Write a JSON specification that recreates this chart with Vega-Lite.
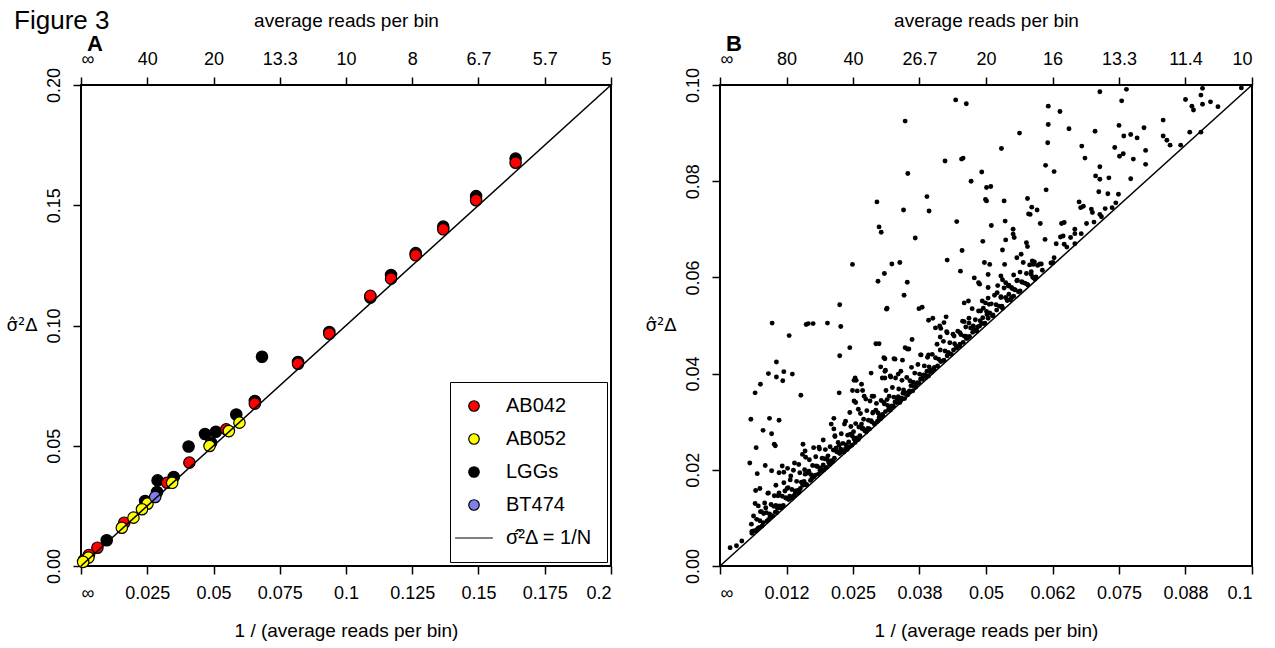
{
  "$schema": "https://vega.github.io/schema/vega-lite/v6.json",
  "background": "white",
  "padding": {"left": 5, "top": 8, "right": 5, "bottom": 5},
  "title": {"text": "Figure 3", "anchor": "start", "frame": "bounds", "fontSize": 26, "font": "Liberation Sans", "fontWeight": "normal", "color": "black", "offset": -24, "dx": 9},
  "config": {
    "font": "Liberation Sans",
    "view": {"stroke": "black", "strokeWidth": 2},
    "axis": {"domain": false, "grid": false, "tickColor": "black", "tickWidth": 1.5, "tickSize": 8, "labelColor": "black", "titleColor": "black", "labelFontSize": 18, "titleFontSize": 19, "titleFontWeight": "normal", "labelFont": "Liberation Sans", "titleFont": "Liberation Sans"},
    "title": {"color": "black"}
  },
  "resolve": {"legend": {"color": "independent", "shape": "independent"}, "scale": {"color": "independent", "shape": "independent"}},
  "datasets": {
    "a": [
      {"g": "LGGs", "x": 0.1640, "y": 0.1694},
      {"g": "LGGs", "x": 0.1491, "y": 0.1538},
      {"g": "LGGs", "x": 0.1367, "y": 0.1411},
      {"g": "LGGs", "x": 0.1263, "y": 0.1301},
      {"g": "LGGs", "x": 0.1170, "y": 0.1210},
      {"g": "LGGs", "x": 0.1092, "y": 0.1116},
      {"g": "LGGs", "x": 0.0937, "y": 0.0973},
      {"g": "LGGs", "x": 0.0819, "y": 0.0848},
      {"g": "LGGs", "x": 0.0683, "y": 0.0870},
      {"g": "LGGs", "x": 0.0656, "y": 0.0686},
      {"g": "LGGs", "x": 0.0586, "y": 0.0630},
      {"g": "LGGs", "x": 0.0509, "y": 0.0558},
      {"g": "LGGs", "x": 0.0468, "y": 0.0549},
      {"g": "LGGs", "x": 0.0491, "y": 0.0513},
      {"g": "LGGs", "x": 0.0406, "y": 0.0497},
      {"g": "LGGs", "x": 0.0350, "y": 0.0370},
      {"g": "LGGs", "x": 0.0289, "y": 0.0356},
      {"g": "LGGs", "x": 0.0287, "y": 0.0308},
      {"g": "LGGs", "x": 0.0242, "y": 0.0270},
      {"g": "LGGs", "x": 0.0097, "y": 0.0107},
      {"g": "AB042", "x": 0.1640, "y": 0.1677},
      {"g": "AB042", "x": 0.1491, "y": 0.1521},
      {"g": "AB042", "x": 0.1367, "y": 0.1400},
      {"g": "AB042", "x": 0.1263, "y": 0.1292},
      {"g": "AB042", "x": 0.1170, "y": 0.1195},
      {"g": "AB042", "x": 0.1092, "y": 0.1123},
      {"g": "AB042", "x": 0.0937, "y": 0.0966},
      {"g": "AB042", "x": 0.0819, "y": 0.0841},
      {"g": "AB042", "x": 0.0656, "y": 0.0675},
      {"g": "AB042", "x": 0.0548, "y": 0.0568},
      {"g": "AB042", "x": 0.0409, "y": 0.0430},
      {"g": "AB042", "x": 0.0325, "y": 0.0346},
      {"g": "AB042", "x": 0.0163, "y": 0.0180},
      {"g": "AB042", "x": 0.0062, "y": 0.0076},
      {"g": "AB042", "x": 0.0030, "y": 0.0046},
      {"g": "AB042", "x": 0.0011, "y": 0.0024},
      {"g": "AB052", "x": 0.0598, "y": 0.0596},
      {"g": "AB052", "x": 0.0558, "y": 0.0561},
      {"g": "AB052", "x": 0.0485, "y": 0.0499},
      {"g": "AB052", "x": 0.0344, "y": 0.0346},
      {"g": "AB052", "x": 0.0251, "y": 0.0259},
      {"g": "AB052", "x": 0.0230, "y": 0.0236},
      {"g": "AB052", "x": 0.0198, "y": 0.0201},
      {"g": "AB052", "x": 0.0154, "y": 0.0159},
      {"g": "AB052", "x": 0.0028, "y": 0.0035},
      {"g": "AB052", "x": 0.0008, "y": 0.0017},
      {"g": "BT474", "x": 0.0280, "y": 0.0287}
    ],
    "b": [
      {"x": 0.0225, "y": 0.0543}, {"x": 0.0314, "y": 0.0536}, {"x": 0.0098, "y": 0.0505}, {"x": 0.0162, "y": 0.0502},
      {"x": 0.0166, "y": 0.0504}, {"x": 0.0175, "y": 0.0504}, {"x": 0.0202, "y": 0.0505}, {"x": 0.0227, "y": 0.0498},
      {"x": 0.0130, "y": 0.0479}, {"x": 0.0293, "y": 0.0462}, {"x": 0.0299, "y": 0.0462}, {"x": 0.0244, "y": 0.0454},
      {"x": 0.0225, "y": 0.0437}, {"x": 0.0106, "y": 0.0424}, {"x": 0.0310, "y": 0.0431}, {"x": 0.0327, "y": 0.0431},
      {"x": 0.0091, "y": 0.0400}, {"x": 0.0106, "y": 0.0393}, {"x": 0.0120, "y": 0.0404}, {"x": 0.0136, "y": 0.0399},
      {"x": 0.0118, "y": 0.0385}, {"x": 0.0254, "y": 0.0391}, {"x": 0.0252, "y": 0.0386}, {"x": 0.0284, "y": 0.0401},
      {"x": 0.0302, "y": 0.0414}, {"x": 0.0310, "y": 0.0405}, {"x": 0.0305, "y": 0.0391}, {"x": 0.0321, "y": 0.0393},
      {"x": 0.0066, "y": 0.0360}, {"x": 0.0076, "y": 0.0378}, {"x": 0.0152, "y": 0.0355}, {"x": 0.0224, "y": 0.0360},
      {"x": 0.0249, "y": 0.0365}, {"x": 0.0268, "y": 0.0365}, {"x": 0.0271, "y": 0.0353}, {"x": 0.0286, "y": 0.0353},
      {"x": 0.0252, "y": 0.0343}, {"x": 0.0255, "y": 0.0340}, {"x": 0.0058, "y": 0.0305}, {"x": 0.0093, "y": 0.0307},
      {"x": 0.0111, "y": 0.0303}, {"x": 0.0081, "y": 0.0282}, {"x": 0.0097, "y": 0.0275}, {"x": 0.0102, "y": 0.0253},
      {"x": 0.0104, "y": 0.0250}, {"x": 0.0068, "y": 0.0246}, {"x": 0.0156, "y": 0.0253}, {"x": 0.0214, "y": 0.0307},
      {"x": 0.0209, "y": 0.0295}, {"x": 0.0214, "y": 0.0285}, {"x": 0.0244, "y": 0.0319}, {"x": 0.0056, "y": 0.0214},
      {"x": 0.0070, "y": 0.0192}, {"x": 0.0085, "y": 0.0209}, {"x": 0.0097, "y": 0.0198}, {"x": 0.0117, "y": 0.0208},
      {"x": 0.0127, "y": 0.0203}, {"x": 0.0111, "y": 0.0194}, {"x": 0.0148, "y": 0.0211}, {"x": 0.0155, "y": 0.0232},
      {"x": 0.0160, "y": 0.0239}, {"x": 0.0067, "y": 0.0157}, {"x": 0.0075, "y": 0.0161}, {"x": 0.0066, "y": 0.0130},
      {"x": 0.0076, "y": 0.0113}, {"x": 0.0059, "y": 0.0087}, {"x": 0.0063, "y": 0.0073}, {"x": 0.0019, "y": 0.0038},
      {"x": 0.0031, "y": 0.0042}, {"x": 0.0041, "y": 0.0052},
      {"x": 0.0443, "y": 0.0969}, {"x": 0.0463, "y": 0.0961}, {"x": 0.0617, "y": 0.0956}, {"x": 0.0348, "y": 0.0925},
      {"x": 0.0617, "y": 0.0918}, {"x": 0.0563, "y": 0.0900}, {"x": 0.0616, "y": 0.0880}, {"x": 0.0529, "y": 0.0868},
      {"x": 0.0423, "y": 0.0842}, {"x": 0.0454, "y": 0.0846}, {"x": 0.0457, "y": 0.0848}, {"x": 0.0353, "y": 0.0816},
      {"x": 0.0492, "y": 0.0819}, {"x": 0.0612, "y": 0.0833}, {"x": 0.0472, "y": 0.0800}, {"x": 0.0501, "y": 0.0787},
      {"x": 0.0509, "y": 0.0789}, {"x": 0.0613, "y": 0.0782}, {"x": 0.0389, "y": 0.0768}, {"x": 0.0499, "y": 0.0762},
      {"x": 0.0501, "y": 0.0759}, {"x": 0.0534, "y": 0.0759}, {"x": 0.0578, "y": 0.0764}, {"x": 0.0295, "y": 0.0757},
      {"x": 0.0345, "y": 0.0740}, {"x": 0.0393, "y": 0.0738}, {"x": 0.0586, "y": 0.0746}, {"x": 0.0596, "y": 0.0740},
      {"x": 0.0580, "y": 0.0732}, {"x": 0.0583, "y": 0.0731}, {"x": 0.0299, "y": 0.0705}, {"x": 0.0303, "y": 0.0694},
      {"x": 0.0445, "y": 0.0716}, {"x": 0.0510, "y": 0.0708}, {"x": 0.0536, "y": 0.0717}, {"x": 0.0602, "y": 0.0712},
      {"x": 0.0367, "y": 0.0682}, {"x": 0.0494, "y": 0.0675}, {"x": 0.0537, "y": 0.0678}, {"x": 0.0551, "y": 0.0700},
      {"x": 0.0551, "y": 0.0690}, {"x": 0.0553, "y": 0.0683}, {"x": 0.0576, "y": 0.0672}, {"x": 0.0578, "y": 0.0664},
      {"x": 0.0611, "y": 0.0679}, {"x": 0.0249, "y": 0.0627}, {"x": 0.0323, "y": 0.0628}, {"x": 0.0338, "y": 0.0631},
      {"x": 0.0309, "y": 0.0608}, {"x": 0.0297, "y": 0.0592}, {"x": 0.0352, "y": 0.0590}, {"x": 0.0346, "y": 0.0563},
      {"x": 0.0427, "y": 0.0636}, {"x": 0.0455, "y": 0.0656}, {"x": 0.0452, "y": 0.0613}, {"x": 0.0531, "y": 0.0657},
      {"x": 0.0497, "y": 0.0631}, {"x": 0.0507, "y": 0.0627}, {"x": 0.0535, "y": 0.0627}, {"x": 0.0558, "y": 0.0641},
      {"x": 0.0566, "y": 0.0648}, {"x": 0.0587, "y": 0.0634}, {"x": 0.0589, "y": 0.0627}, {"x": 0.0585, "y": 0.0612},
      {"x": 0.0601, "y": 0.0628}, {"x": 0.0604, "y": 0.0628}, {"x": 0.0592, "y": 0.0596}, {"x": 0.0478, "y": 0.0599},
      {"x": 0.0486, "y": 0.0589}, {"x": 0.0488, "y": 0.0586}, {"x": 0.0504, "y": 0.0606}, {"x": 0.0504, "y": 0.0579},
      {"x": 0.0528, "y": 0.0603}, {"x": 0.0531, "y": 0.0595}, {"x": 0.0537, "y": 0.0589}, {"x": 0.0542, "y": 0.0582},
      {"x": 0.0548, "y": 0.0579}, {"x": 0.0553, "y": 0.0575}, {"x": 0.0559, "y": 0.0594}, {"x": 0.0568, "y": 0.0590},
      {"x": 0.0521, "y": 0.0568}, {"x": 0.0528, "y": 0.0558}, {"x": 0.0537, "y": 0.0558}, {"x": 0.0543, "y": 0.0565},
      {"x": 0.0548, "y": 0.0558}, {"x": 0.0313, "y": 0.0534}, {"x": 0.0374, "y": 0.0535}, {"x": 0.0380, "y": 0.0538},
      {"x": 0.0392, "y": 0.0511}, {"x": 0.0400, "y": 0.0515}, {"x": 0.0459, "y": 0.0547}, {"x": 0.0467, "y": 0.0551},
      {"x": 0.0425, "y": 0.0518}, {"x": 0.0421, "y": 0.0506}, {"x": 0.0405, "y": 0.0495}, {"x": 0.0413, "y": 0.0499},
      {"x": 0.0415, "y": 0.0494}, {"x": 0.0459, "y": 0.0508}, {"x": 0.0468, "y": 0.0505}, {"x": 0.0476, "y": 0.0499},
      {"x": 0.0484, "y": 0.0497}, {"x": 0.0490, "y": 0.0530}, {"x": 0.0494, "y": 0.0516}, {"x": 0.0502, "y": 0.0523},
      {"x": 0.0513, "y": 0.0520}, {"x": 0.0493, "y": 0.0551}, {"x": 0.0499, "y": 0.0547}, {"x": 0.0506, "y": 0.0544},
      {"x": 0.0361, "y": 0.0471}, {"x": 0.0348, "y": 0.0454}, {"x": 0.0352, "y": 0.0451}, {"x": 0.0308, "y": 0.0433},
      {"x": 0.0714, "y": 0.0986}, {"x": 0.0764, "y": 0.0991}, {"x": 0.0755, "y": 0.0967}, {"x": 0.0907, "y": 0.0993},
      {"x": 0.0980, "y": 0.0994}, {"x": 0.0875, "y": 0.0970}, {"x": 0.0904, "y": 0.0979}, {"x": 0.0922, "y": 0.0965},
      {"x": 0.0887, "y": 0.0956}, {"x": 0.0890, "y": 0.0948}, {"x": 0.0907, "y": 0.0960}, {"x": 0.0936, "y": 0.0955},
      {"x": 0.0639, "y": 0.0945}, {"x": 0.0656, "y": 0.0909}, {"x": 0.0705, "y": 0.0904}, {"x": 0.0750, "y": 0.0916},
      {"x": 0.0759, "y": 0.0894}, {"x": 0.0772, "y": 0.0897}, {"x": 0.0784, "y": 0.0890}, {"x": 0.0797, "y": 0.0911},
      {"x": 0.0833, "y": 0.0927}, {"x": 0.0833, "y": 0.0894}, {"x": 0.0840, "y": 0.0885}, {"x": 0.0846, "y": 0.0875},
      {"x": 0.0866, "y": 0.0875}, {"x": 0.0883, "y": 0.0902}, {"x": 0.0904, "y": 0.0902}, {"x": 0.0680, "y": 0.0873},
      {"x": 0.0686, "y": 0.0848}, {"x": 0.0628, "y": 0.0820}, {"x": 0.0742, "y": 0.0870}, {"x": 0.0751, "y": 0.0852},
      {"x": 0.0758, "y": 0.0857}, {"x": 0.0777, "y": 0.0846}, {"x": 0.0800, "y": 0.0864}, {"x": 0.0800, "y": 0.0835},
      {"x": 0.0714, "y": 0.0830}, {"x": 0.0706, "y": 0.0811}, {"x": 0.0714, "y": 0.0804}, {"x": 0.0731, "y": 0.0807},
      {"x": 0.0772, "y": 0.0805}, {"x": 0.0712, "y": 0.0778}, {"x": 0.0729, "y": 0.0774}, {"x": 0.0749, "y": 0.0773},
      {"x": 0.0744, "y": 0.0755}, {"x": 0.0737, "y": 0.0745}, {"x": 0.0675, "y": 0.0757}, {"x": 0.0678, "y": 0.0745},
      {"x": 0.0683, "y": 0.0748}, {"x": 0.0698, "y": 0.0742}, {"x": 0.0700, "y": 0.0735}, {"x": 0.0724, "y": 0.0743},
      {"x": 0.0714, "y": 0.0731}, {"x": 0.0717, "y": 0.0726}, {"x": 0.0703, "y": 0.0715}, {"x": 0.0642, "y": 0.0712},
      {"x": 0.0647, "y": 0.0714}, {"x": 0.0640, "y": 0.0684}, {"x": 0.0645, "y": 0.0686}, {"x": 0.0659, "y": 0.0683},
      {"x": 0.0667, "y": 0.0700}, {"x": 0.0667, "y": 0.0691}, {"x": 0.0679, "y": 0.0691}, {"x": 0.0689, "y": 0.0712},
      {"x": 0.0647, "y": 0.0669}, {"x": 0.0652, "y": 0.0663}, {"x": 0.0667, "y": 0.0670}, {"x": 0.0632, "y": 0.0670},
      {"x": 0.0628, "y": 0.0641}, {"x": 0.0626, "y": 0.0631},
      {"x": 0.0329, "y": 0.0430}, {"x": 0.0343, "y": 0.0428}, {"x": 0.0355, "y": 0.0451}, {"x": 0.0414, "y": 0.0476},
      {"x": 0.0427, "y": 0.0485}, {"x": 0.0440, "y": 0.0478}, {"x": 0.0451, "y": 0.0485}, {"x": 0.0462, "y": 0.0478},
      {"x": 0.0377, "y": 0.0439}, {"x": 0.0392, "y": 0.0439}, {"x": 0.0311, "y": 0.0407}, {"x": 0.0320, "y": 0.0395},
      {"x": 0.0335, "y": 0.0399}, {"x": 0.0340, "y": 0.0405}, {"x": 0.0310, "y": 0.0391}, {"x": 0.0256, "y": 0.0386},
      {"x": 0.0266, "y": 0.0378}, {"x": 0.0258, "y": 0.0364}, {"x": 0.0274, "y": 0.0347}, {"x": 0.0289, "y": 0.0353},
      {"x": 0.0120, "y": 0.0195}, {"x": 0.0140, "y": 0.0214}, {"x": 0.0161, "y": 0.0226}, {"x": 0.0176, "y": 0.0246},
      {"x": 0.0194, "y": 0.0262}, {"x": 0.0216, "y": 0.0271}, {"x": 0.0236, "y": 0.0301}, {"x": 0.0187, "y": 0.0243},
      {"x": 0.0133, "y": 0.0187}, {"x": 0.0105, "y": 0.0168}, {"x": 0.0091, "y": 0.0152}, {"x": 0.0260, "y": 0.0326},
      {"x": 0.0060, "y": 0.0072}, {"x": 0.0063, "y": 0.0104}, {"x": 0.0066, "y": 0.0073}, {"x": 0.0069, "y": 0.0097},
      {"x": 0.0072, "y": 0.0125}, {"x": 0.0075, "y": 0.0094}, {"x": 0.0078, "y": 0.0113}, {"x": 0.0081, "y": 0.0090},
      {"x": 0.0084, "y": 0.0131}, {"x": 0.0087, "y": 0.0111}, {"x": 0.0090, "y": 0.0151}, {"x": 0.0093, "y": 0.0108},
      {"x": 0.0096, "y": 0.0128}, {"x": 0.0099, "y": 0.0104}, {"x": 0.0102, "y": 0.0146}, {"x": 0.0105, "y": 0.0126},
      {"x": 0.0108, "y": 0.0120}, {"x": 0.0111, "y": 0.0152}, {"x": 0.0114, "y": 0.0121}, {"x": 0.0117, "y": 0.0145},
      {"x": 0.0120, "y": 0.0173}, {"x": 0.0123, "y": 0.0142}, {"x": 0.0126, "y": 0.0161}, {"x": 0.0129, "y": 0.0138},
      {"x": 0.0132, "y": 0.0179}, {"x": 0.0135, "y": 0.0159}, {"x": 0.0138, "y": 0.0199}, {"x": 0.0141, "y": 0.0156},
      {"x": 0.0144, "y": 0.0176}, {"x": 0.0147, "y": 0.0152}, {"x": 0.0150, "y": 0.0194}, {"x": 0.0153, "y": 0.0174},
      {"x": 0.0156, "y": 0.0168}, {"x": 0.0159, "y": 0.0200}, {"x": 0.0162, "y": 0.0169}, {"x": 0.0165, "y": 0.0193},
      {"x": 0.0168, "y": 0.0221}, {"x": 0.0171, "y": 0.0190}, {"x": 0.0174, "y": 0.0209}, {"x": 0.0177, "y": 0.0186},
      {"x": 0.0180, "y": 0.0227}, {"x": 0.0183, "y": 0.0207}, {"x": 0.0186, "y": 0.0247}, {"x": 0.0189, "y": 0.0204},
      {"x": 0.0192, "y": 0.0224}, {"x": 0.0195, "y": 0.0200}, {"x": 0.0198, "y": 0.0242}, {"x": 0.0201, "y": 0.0222},
      {"x": 0.0204, "y": 0.0216}, {"x": 0.0207, "y": 0.0248}, {"x": 0.0210, "y": 0.0217}, {"x": 0.0213, "y": 0.0241},
      {"x": 0.0216, "y": 0.0269}, {"x": 0.0219, "y": 0.0238}, {"x": 0.0222, "y": 0.0257}, {"x": 0.0225, "y": 0.0234},
      {"x": 0.0228, "y": 0.0275}, {"x": 0.0231, "y": 0.0255}, {"x": 0.0234, "y": 0.0295}, {"x": 0.0237, "y": 0.0252},
      {"x": 0.0240, "y": 0.0272}, {"x": 0.0243, "y": 0.0248}, {"x": 0.0246, "y": 0.0290}, {"x": 0.0249, "y": 0.0270},
      {"x": 0.0252, "y": 0.0264}, {"x": 0.0255, "y": 0.0296}, {"x": 0.0258, "y": 0.0265}, {"x": 0.0261, "y": 0.0289},
      {"x": 0.0264, "y": 0.0317}, {"x": 0.0267, "y": 0.0286}, {"x": 0.0270, "y": 0.0305}, {"x": 0.0273, "y": 0.0282},
      {"x": 0.0276, "y": 0.0323}, {"x": 0.0279, "y": 0.0303}, {"x": 0.0282, "y": 0.0343}, {"x": 0.0285, "y": 0.0300},
      {"x": 0.0288, "y": 0.0320}, {"x": 0.0291, "y": 0.0296}, {"x": 0.0294, "y": 0.0338}, {"x": 0.0297, "y": 0.0318},
      {"x": 0.0300, "y": 0.0312}, {"x": 0.0303, "y": 0.0344}, {"x": 0.0306, "y": 0.0313}, {"x": 0.0309, "y": 0.0337},
      {"x": 0.0312, "y": 0.0365}, {"x": 0.0315, "y": 0.0334}, {"x": 0.0318, "y": 0.0353}, {"x": 0.0321, "y": 0.0330},
      {"x": 0.0324, "y": 0.0371}, {"x": 0.0327, "y": 0.0351}, {"x": 0.0330, "y": 0.0391}, {"x": 0.0333, "y": 0.0348},
      {"x": 0.0336, "y": 0.0368}, {"x": 0.0339, "y": 0.0344}, {"x": 0.0342, "y": 0.0386}, {"x": 0.0345, "y": 0.0366},
      {"x": 0.0348, "y": 0.0360}, {"x": 0.0351, "y": 0.0392}, {"x": 0.0354, "y": 0.0361}, {"x": 0.0357, "y": 0.0385},
      {"x": 0.0360, "y": 0.0413}, {"x": 0.0363, "y": 0.0382}, {"x": 0.0366, "y": 0.0401}, {"x": 0.0369, "y": 0.0378},
      {"x": 0.0372, "y": 0.0419}, {"x": 0.0375, "y": 0.0399}, {"x": 0.0378, "y": 0.0439}, {"x": 0.0381, "y": 0.0396},
      {"x": 0.0384, "y": 0.0416}, {"x": 0.0387, "y": 0.0392}, {"x": 0.0390, "y": 0.0434}, {"x": 0.0393, "y": 0.0414},
      {"x": 0.0396, "y": 0.0408}, {"x": 0.0399, "y": 0.0440}, {"x": 0.0402, "y": 0.0409}, {"x": 0.0405, "y": 0.0433},
      {"x": 0.0408, "y": 0.0461}, {"x": 0.0411, "y": 0.0430}, {"x": 0.0414, "y": 0.0449}, {"x": 0.0417, "y": 0.0426},
      {"x": 0.0420, "y": 0.0467}, {"x": 0.0423, "y": 0.0447}, {"x": 0.0426, "y": 0.0487}, {"x": 0.0429, "y": 0.0444},
      {"x": 0.0432, "y": 0.0464}, {"x": 0.0435, "y": 0.0440}, {"x": 0.0438, "y": 0.0482}, {"x": 0.0441, "y": 0.0462},
      {"x": 0.0444, "y": 0.0456}, {"x": 0.0447, "y": 0.0488}, {"x": 0.0450, "y": 0.0457}, {"x": 0.0453, "y": 0.0481},
      {"x": 0.0456, "y": 0.0509}, {"x": 0.0459, "y": 0.0478}, {"x": 0.0462, "y": 0.0497}, {"x": 0.0465, "y": 0.0474},
      {"x": 0.0468, "y": 0.0515}, {"x": 0.0471, "y": 0.0495}, {"x": 0.0474, "y": 0.0535}, {"x": 0.0477, "y": 0.0492},
      {"x": 0.0480, "y": 0.0512}, {"x": 0.0483, "y": 0.0488}, {"x": 0.0486, "y": 0.0530}, {"x": 0.0489, "y": 0.0510},
      {"x": 0.0492, "y": 0.0504}, {"x": 0.0495, "y": 0.0536}, {"x": 0.0498, "y": 0.0505}, {"x": 0.0501, "y": 0.0529},
      {"x": 0.0504, "y": 0.0557}, {"x": 0.0507, "y": 0.0526}, {"x": 0.0510, "y": 0.0545}, {"x": 0.0513, "y": 0.0522},
      {"x": 0.0516, "y": 0.0563}, {"x": 0.0519, "y": 0.0543}, {"x": 0.0522, "y": 0.0583}, {"x": 0.0525, "y": 0.0540},
      {"x": 0.0528, "y": 0.0560}, {"x": 0.0531, "y": 0.0536}, {"x": 0.0534, "y": 0.0578}, {"x": 0.0537, "y": 0.0558},
      {"x": 0.0540, "y": 0.0552}, {"x": 0.0543, "y": 0.0584}, {"x": 0.0546, "y": 0.0553}, {"x": 0.0549, "y": 0.0577},
      {"x": 0.0552, "y": 0.0605}, {"x": 0.0555, "y": 0.0574}, {"x": 0.0558, "y": 0.0593}, {"x": 0.0561, "y": 0.0570},
      {"x": 0.0564, "y": 0.0611}, {"x": 0.0567, "y": 0.0591}, {"x": 0.0570, "y": 0.0631}, {"x": 0.0573, "y": 0.0588},
      {"x": 0.0576, "y": 0.0608}, {"x": 0.0579, "y": 0.0584}, {"x": 0.0582, "y": 0.0626}, {"x": 0.0585, "y": 0.0606},
      {"x": 0.0588, "y": 0.0600}, {"x": 0.0591, "y": 0.0632}, {"x": 0.0594, "y": 0.0601}, {"x": 0.0597, "y": 0.0625},
      {"x": 0.0060, "y": 0.0068}, {"x": 0.0068, "y": 0.0074}, {"x": 0.0071, "y": 0.0078}, {"x": 0.0074, "y": 0.0080},
      {"x": 0.0079, "y": 0.0083}, {"x": 0.0082, "y": 0.0109}, {"x": 0.0086, "y": 0.0121}, {"x": 0.0088, "y": 0.0093},
      {"x": 0.0091, "y": 0.0096}, {"x": 0.0094, "y": 0.0102}, {"x": 0.0098, "y": 0.0104}, {"x": 0.0101, "y": 0.0124},
      {"x": 0.0104, "y": 0.0112}, {"x": 0.0107, "y": 0.0111}, {"x": 0.0109, "y": 0.0146}, {"x": 0.0112, "y": 0.0125},
      {"x": 0.0116, "y": 0.0122}, {"x": 0.0119, "y": 0.0126}, {"x": 0.0122, "y": 0.0156}, {"x": 0.0125, "y": 0.0141},
      {"x": 0.0128, "y": 0.0163}, {"x": 0.0131, "y": 0.0145}, {"x": 0.0134, "y": 0.0141}, {"x": 0.0137, "y": 0.0144},
      {"x": 0.0140, "y": 0.0147}, {"x": 0.0142, "y": 0.0154}, {"x": 0.0146, "y": 0.0157}, {"x": 0.0149, "y": 0.0155},
      {"x": 0.0151, "y": 0.0161}, {"x": 0.0155, "y": 0.0171}, {"x": 0.0158, "y": 0.0176}, {"x": 0.0160, "y": 0.0191},
      {"x": 0.0163, "y": 0.0169}, {"x": 0.0167, "y": 0.0197}, {"x": 0.0170, "y": 0.0178}, {"x": 0.0173, "y": 0.0183},
      {"x": 0.0176, "y": 0.0186}, {"x": 0.0179, "y": 0.0189}, {"x": 0.0181, "y": 0.0208}, {"x": 0.0185, "y": 0.0191},
      {"x": 0.0188, "y": 0.0199}, {"x": 0.0191, "y": 0.0197}, {"x": 0.0194, "y": 0.0210}, {"x": 0.0197, "y": 0.0223},
      {"x": 0.0200, "y": 0.0205}, {"x": 0.0203, "y": 0.0229}, {"x": 0.0206, "y": 0.0211}, {"x": 0.0209, "y": 0.0219},
      {"x": 0.0212, "y": 0.0217}, {"x": 0.0215, "y": 0.0224}, {"x": 0.0218, "y": 0.0245}, {"x": 0.0221, "y": 0.0237},
      {"x": 0.0224, "y": 0.0251}, {"x": 0.0227, "y": 0.0243}, {"x": 0.0230, "y": 0.0238}, {"x": 0.0233, "y": 0.0237},
      {"x": 0.0236, "y": 0.0244}, {"x": 0.0239, "y": 0.0242}, {"x": 0.0242, "y": 0.0258}, {"x": 0.0245, "y": 0.0274},
      {"x": 0.0248, "y": 0.0251}, {"x": 0.0251, "y": 0.0279}, {"x": 0.0254, "y": 0.0257}, {"x": 0.0257, "y": 0.0266},
      {"x": 0.0260, "y": 0.0263}, {"x": 0.0263, "y": 0.0271}, {"x": 0.0266, "y": 0.0295}, {"x": 0.0269, "y": 0.0286},
      {"x": 0.0272, "y": 0.0281}, {"x": 0.0275, "y": 0.0279}, {"x": 0.0278, "y": 0.0286}, {"x": 0.0281, "y": 0.0285},
      {"x": 0.0284, "y": 0.0302}, {"x": 0.0287, "y": 0.0318}, {"x": 0.0290, "y": 0.0295}, {"x": 0.0293, "y": 0.0324},
      {"x": 0.0296, "y": 0.0301}, {"x": 0.0299, "y": 0.0308}, {"x": 0.0302, "y": 0.0306}, {"x": 0.0305, "y": 0.0315},
      {"x": 0.0308, "y": 0.0340}, {"x": 0.0311, "y": 0.0321}, {"x": 0.0314, "y": 0.0346}, {"x": 0.0317, "y": 0.0326},
      {"x": 0.0320, "y": 0.0324}, {"x": 0.0323, "y": 0.0333}, {"x": 0.0326, "y": 0.0332}, {"x": 0.0329, "y": 0.0341},
      {"x": 0.0332, "y": 0.0340}, {"x": 0.0335, "y": 0.0352}, {"x": 0.0338, "y": 0.0340}, {"x": 0.0341, "y": 0.0349},
      {"x": 0.0344, "y": 0.0359}, {"x": 0.0347, "y": 0.0348}, {"x": 0.0350, "y": 0.0357}, {"x": 0.0353, "y": 0.0356},
      {"x": 0.0356, "y": 0.0364}, {"x": 0.0359, "y": 0.0375}, {"x": 0.0362, "y": 0.0364}, {"x": 0.0365, "y": 0.0373},
      {"x": 0.0368, "y": 0.0372}, {"x": 0.0371, "y": 0.0381}, {"x": 0.0374, "y": 0.0380}, {"x": 0.0377, "y": 0.0389},
      {"x": 0.0380, "y": 0.0388}, {"x": 0.0383, "y": 0.0397}, {"x": 0.0386, "y": 0.0396}, {"x": 0.0389, "y": 0.0405},
      {"x": 0.0392, "y": 0.0395}, {"x": 0.0395, "y": 0.0404}, {"x": 0.0398, "y": 0.0403}, {"x": 0.0403, "y": 0.0413},
      {"x": 0.0409, "y": 0.0416}, {"x": 0.0415, "y": 0.0425}, {"x": 0.0421, "y": 0.0428}, {"x": 0.0427, "y": 0.0437},
      {"x": 0.0433, "y": 0.0441}, {"x": 0.0439, "y": 0.0449}, {"x": 0.0445, "y": 0.0453}, {"x": 0.0451, "y": 0.0461},
      {"x": 0.0457, "y": 0.0465}, {"x": 0.0463, "y": 0.0473}, {"x": 0.0469, "y": 0.0477}, {"x": 0.0475, "y": 0.0486},
      {"x": 0.0481, "y": 0.0489}, {"x": 0.0488, "y": 0.0499}, {"x": 0.0496, "y": 0.0504}, {"x": 0.0504, "y": 0.0515},
      {"x": 0.0512, "y": 0.0521}, {"x": 0.0520, "y": 0.0532}, {"x": 0.0530, "y": 0.0540}, {"x": 0.0540, "y": 0.0553},
      {"x": 0.0552, "y": 0.0561}, {"x": 0.0564, "y": 0.0572}, {"x": 0.0577, "y": 0.0586}, {"x": 0.0591, "y": 0.0599},
      {"x": 0.0606, "y": 0.0615}, {"x": 0.0622, "y": 0.0630}
    ]
  },
  "hconcat": [
    {
      "width": 530,
      "height": 481,
      "title": {"text": "A", "anchor": "start", "frame": "group", "fontSize": 22, "fontWeight": "bold", "font": "Liberation Sans", "offset": -45, "dx": 6},
      "encoding": {
        "y": {"field": "y", "type": "quantitative", "scale": {"domain": [0, 0.2], "nice": false, "zero": false},
              "axis": {"title": "σ̂²Δ", "titleFont": "DejaVu Sans", "titleAngle": 0, "titleAlign": "right", "titleBaseline": "middle", "titleFontSize": 18, "titlePadding": 8, "values": [0, 0.05, 0.1, 0.15, 0.2], "format": ".2f", "labelAngle": -90, "labelPadding": 10}}
      },
      "layer": [
        {
          "data": {"name": "a"},
          "mark": {"type": "point", "filled": true, "stroke": "black", "strokeWidth": 1.2, "size": 130, "opacity": 1},
          "encoding": {
            "x": {"field": "x", "type": "quantitative", "scale": {"domain": [0, 0.2], "nice": false, "zero": false},
                  "axis": {"orient": "bottom", "title": "1 / (average reads per bin)", "titlePadding": 19, "labelPadding": 10,
                           "values": [0, 0.025, 0.05, 0.075, 0.1, 0.125, 0.15, 0.175, 0.2],
                           "labelExpr": "['∞','0.025','0.05','0.075','0.1','0.125','0.15','0.175','0.2'][round(datum.value*40)]"}},
            "color": {"field": "g", "type": "nominal",
                      "scale": {"domain": ["AB042", "AB052", "LGGs", "BT474", "σ̂²Δ = 1/N"], "range": ["#ff0000", "#ffff00", "#000000", "#8080e6", "#000000"]},
                      "legend": {"title": null, "orient": "bottom-right", "offset": 4, "padding": 14, "strokeColor": "black", "fillColor": "white",
                                 "labelFontSize": 20, "labelFont": "Liberation Sans", "labelColor": "black", "symbolSize": 110,
                                 "symbolStrokeColor": "black", "symbolStrokeWidth": 1.2, "rowPadding": 13, "labelOffset": 22}},
            "shape": {"field": "g", "type": "nominal",
                      "scale": {"domain": ["AB042", "AB052", "LGGs", "BT474", "σ̂²Δ = 1/N"], "range": ["circle", "circle", "circle", "circle", "M-3.6,0L3.6,0"]}}
          }
        },
        {
          "data": {"values": [{"x": 0, "y": 0}, {"x": 0.2, "y": 0.2}]},
          "mark": {"type": "line", "color": "black", "strokeWidth": 1.5},
          "encoding": {
            "x": {"field": "x", "type": "quantitative",
                  "axis": {"orient": "top", "title": "average reads per bin", "titlePadding": 20, "labelPadding": 9,
                           "values": [0, 0.025, 0.05, 0.075, 0.1, 0.125, 0.15, 0.175, 0.2],
                           "labelExpr": "['∞','40','20','13.3','10','8','6.7','5.7','5'][round(datum.value*40)]"}}
          }
        }
      ],
      "resolve": {"axis": {"x": "independent"}}
    },
    {
      "width": 532,
      "height": 481,
      "title": {"text": "B", "anchor": "start", "frame": "group", "fontSize": 22, "fontWeight": "bold", "font": "Liberation Sans", "offset": -45, "dx": 6},
      "encoding": {
        "y": {"field": "y", "type": "quantitative", "scale": {"domain": [0, 0.1], "nice": false, "zero": false},
              "axis": {"title": "σ̂²Δ", "titleFont": "DejaVu Sans", "titleAngle": 0, "titleAlign": "right", "titleBaseline": "middle", "titleFontSize": 18, "titlePadding": 8, "values": [0, 0.02, 0.04, 0.06, 0.08, 0.1], "format": ".2f", "labelAngle": -90, "labelPadding": 10}}
      },
      "layer": [
        {
          "data": {"name": "b"},
          "mark": {"type": "circle", "color": "black", "size": 24, "opacity": 1},
          "encoding": {
            "x": {"field": "x", "type": "quantitative", "scale": {"domain": [0, 0.1], "nice": false, "zero": false},
                  "axis": {"orient": "bottom", "title": "1 / (average reads per bin)", "titlePadding": 19, "labelPadding": 10,
                           "values": [0, 0.0125, 0.025, 0.0375, 0.05, 0.0625, 0.075, 0.0875, 0.1],
                           "labelExpr": "['∞','0.012','0.025','0.038','0.05','0.062','0.075','0.088','0.1'][round(datum.value*80)]"}}
          }
        },
        {
          "data": {"values": [{"x": 0, "y": 0}, {"x": 0.1, "y": 0.1}]},
          "mark": {"type": "line", "color": "black", "strokeWidth": 1.5},
          "encoding": {
            "x": {"field": "x", "type": "quantitative",
                  "axis": {"orient": "top", "title": "average reads per bin", "titlePadding": 20, "labelPadding": 9,
                           "values": [0, 0.0125, 0.025, 0.0375, 0.05, 0.0625, 0.075, 0.0875, 0.1],
                           "labelExpr": "['∞','80','40','26.7','20','16','13.3','11.4','10'][round(datum.value*80)]"}}
          }
        }
      ],
      "resolve": {"axis": {"x": "independent"}}
    }
  ],
  "spacing": 29
}
